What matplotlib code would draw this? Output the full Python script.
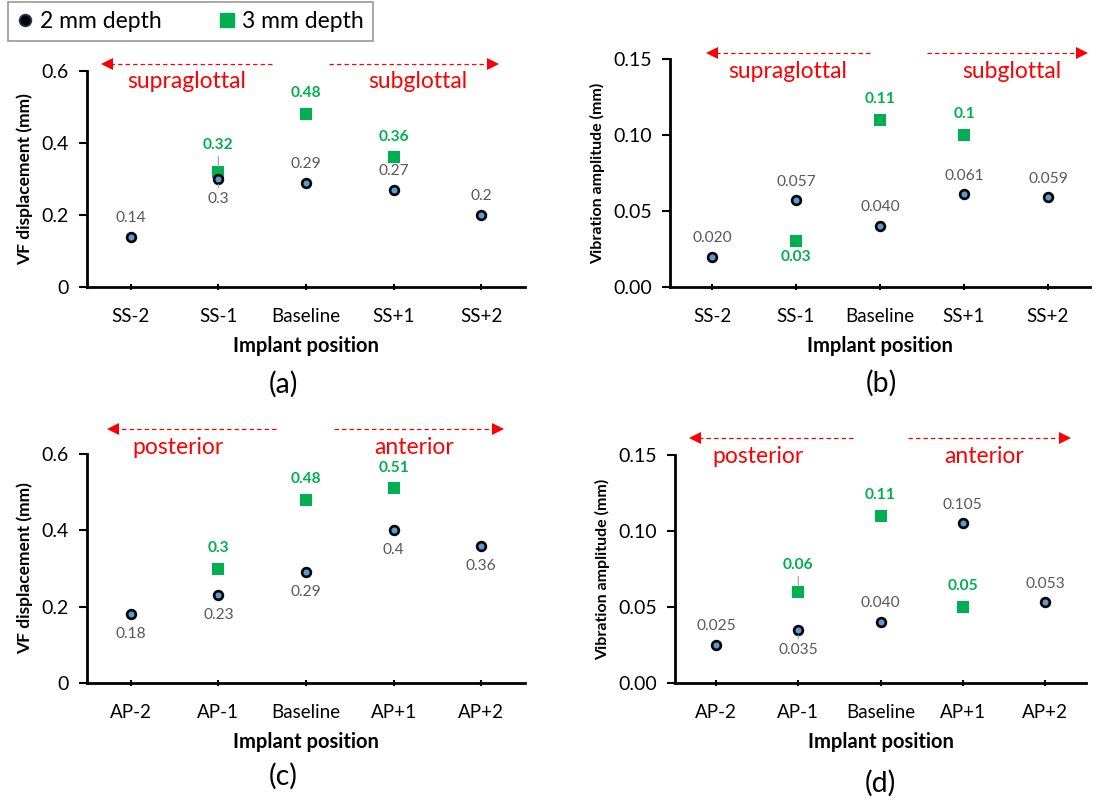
import numpy as np
import matplotlib
matplotlib.use("Agg")
import matplotlib.pyplot as plt
from matplotlib.lines import Line2D

plt.rcParams["font.family"] = ["Lato", "DejaVu Sans"]

W, H = 1107, 805

# ---- data -------------------------------------------------------------
ss_positions = ["SS-2", "SS-1", "Baseline", "SS+1", "SS+2"]
ap_positions = ["AP-2", "AP-1", "Baseline", "AP+1", "AP+2"]

ss_disp_2mm = [0.14, 0.30, 0.29, 0.27, 0.20]
ss_disp_3mm = [np.nan, 0.32, 0.48, 0.36, np.nan]

ss_amp_2mm = [0.020, 0.057, 0.040, 0.061, 0.059]
ss_amp_3mm = [np.nan, 0.03, 0.11, 0.10, np.nan]

ap_disp_2mm = [0.18, 0.23, 0.29, 0.40, 0.36]
ap_disp_3mm = [np.nan, 0.30, 0.48, 0.51, np.nan]

ap_amp_2mm = [0.025, 0.035, 0.040, 0.105, 0.053]
ap_amp_3mm = [np.nan, 0.06, 0.11, 0.05, np.nan]

# ---- styling ----------------------------------------------------------
DOT_FACE = "#5B9BD5"
GREEN = "#00B050"
LABEL_GRAY = "#595959"
RED = "#FF0000"


def fig_frac(x, y):
    """Convert top-left pixel position to figure fraction."""
    return x / W, 1 - y / H


def make_axes(left, top, right, bottom):
    l, t = fig_frac(left, top)
    r, b = fig_frac(right, bottom)
    return fig.add_axes([l, b, r - l, t - b])


def fmt_general(v):
    return f"{v:g}"


def fmt_three(v):
    return f"{v:.3f}"


def draw_panel(ax, cats, y2, y3, ymax, yticks, ytickfmt, ylabel, ylabel_size,
               pos2, pos3, fmt2, fmt3, leader2=(), leader3=()):
    x = np.arange(len(cats))
    ax.plot(x, y2, ls="none", marker="o", ms=6.3, mfc=DOT_FACE, mec="black",
            mew=1.9, zorder=4)
    ax.plot(x, y3, ls="none", marker="s", ms=8.0, mfc=GREEN, mec=GREEN,
            mew=0, zorder=3)

    for i, v in enumerate(y2):
        off = 13.5 if pos2[i] == "above" else -14.5
        kw = {}
        if i in leader2:
            kw["arrowprops"] = dict(arrowstyle="-", color="#A6A6A6", lw=0.9,
                                    shrinkA=1, shrinkB=4)
        ax.annotate(fmt2(v), xy=(i, v), xytext=(0, off),
                    textcoords="offset points", ha="center", va="center",
                    fontsize=11.2, color=LABEL_GRAY, zorder=5, **kw)
    for i, v in enumerate(y3):
        if np.isnan(v):
            continue
        p = pos3[i]
        off = 15 if p == "above" else -11.5
        kw = {}
        if i in leader3:
            off = 19 if p == "above" else -19
            kw["arrowprops"] = dict(arrowstyle="-", color="#A6A6A6", lw=0.9,
                                    shrinkA=1, shrinkB=4)
        ax.annotate(fmt3(v), xy=(i, v), xytext=(0, off),
                    textcoords="offset points", ha="center", va="center",
                    fontsize=11.2, fontweight="bold", color=GREEN, zorder=5,
                    **kw)

    ax.set_xlim(-0.5, len(cats) - 0.5)
    ax.set_ylim(0, ymax)
    ax.set_xticks(x)
    ax.set_xticklabels(cats)
    ax.set_yticks(yticks)
    ax.set_yticklabels([ytickfmt(t) for t in yticks])
    ax.tick_params(axis="x", direction="inout", length=5, width=1.5,
                   pad=12.5, labelsize=13.5, color="black")
    ax.tick_params(axis="y", direction="out", length=6, width=1.5,
                   pad=7, labelsize=14, color="black")
    for s in ("top", "right"):
        ax.spines[s].set_visible(False)
    for s in ("left", "bottom"):
        ax.spines[s].set_linewidth(2.0)
        ax.spines[s].set_color("black")
    ax.set_xlabel("Implant position", fontsize=14.5, fontweight="bold",
                  labelpad=8)
    ax.set_ylabel(ylabel, fontsize=ylabel_size, fontweight="bold", labelpad=6)
    ax.patch.set_alpha(0)


def direction_arrows(left_tail, left_head, right_tail, right_head, y,
                     left_text, right_text, ty, left_tx, right_tx):
    for tail, head in ((left_tail, left_head), (right_tail, right_head)):
        (tx, tyf), (hx, hy) = fig_frac(tail, y), fig_frac(head, y)
        fig.add_artist(Line2D([tx, hx], [tyf, hy], transform=fig.transFigure,
                              color=RED, lw=0.9, ls=(0, (3.5, 2.5))))
        fig.add_artist(Line2D([hx], [hy], transform=fig.transFigure,
                              marker="<" if head < tail else ">",
                              ms=8.5, color=RED, mew=0, ls="none"))
    for tx, txt in ((left_tx, left_text), (right_tx, right_text)):
        fx, fy = fig_frac(tx, ty)
        fig.text(fx, fy, txt, ha="center", va="center", color=RED,
                 fontsize=16.5)


fig = plt.figure(figsize=(W / 100, H / 100), dpi=100)
fig.patch.set_facecolor("white")

ax_a = make_axes(87, 71, 525, 287)
ax_b = make_axes(670, 59, 1090, 287)
ax_c = make_axes(87, 454, 525, 683)
ax_d = make_axes(675, 455, 1086, 683)

disp_ticks = [0, 0.2, 0.4, 0.6]
amp_ticks = [0, 0.05, 0.10, 0.15]

draw_panel(ax_a, ss_positions, ss_disp_2mm, ss_disp_3mm, 0.6, disp_ticks,
           fmt_general, "VF displacement (mm)", 12.5,
           ["above", "below", "above", "above", "above"],
           [None, "above", "above", "above", None],
           fmt_general, fmt_general, leader2=(1,), leader3=(1,))
draw_panel(ax_b, ss_positions, ss_amp_2mm, ss_amp_3mm, 0.15, amp_ticks,
           lambda t: f"{t:.2f}", "Vibration amplitude (mm)", 11.5,
           ["above"] * 5,
           [None, "below", "above", "above", None],
           fmt_three, fmt_general)
draw_panel(ax_c, ap_positions, ap_disp_2mm, ap_disp_3mm, 0.6, disp_ticks,
           fmt_general, "VF displacement (mm)", 12.5,
           ["below"] * 5,
           [None, "above", "above", "above", None],
           fmt_general, fmt_general)
draw_panel(ax_d, ap_positions, ap_amp_2mm, ap_amp_3mm, 0.15, amp_ticks,
           lambda t: f"{t:.2f}", "Vibration amplitude (mm)", 11.5,
           ["above", "below", "above", "above", "above"],
           [None, "above", "above", "above", None],
           fmt_three, fmt_general, leader2=(1,), leader3=(1,))

# direction indicators above each panel
direction_arrows(272, 107, 329, 493, 64, "supraglottal", "subglottal",
                 82, 187, 418)
direction_arrows(870, 712, 927, 1082, 53, "supraglottal", "subglottal",
                 71, 788, 1012)
direction_arrows(276, 113, 334, 498, 429, "posterior", "anterior",
                 447, 178, 414)
direction_arrows(853, 695, 908, 1065, 438, "posterior", "anterior",
                 456, 758, 984)

# panel letters
for txt, (px, py) in (("(a)", (283, 384)), ("(b)", (881, 383)),
                      ("(c)", (283, 776)), ("(d)", (880, 783))):
    fx, fy = fig_frac(px, py)
    fig.text(fx, fy, txt, ha="center", va="center", fontsize=20.5)

# shared legend
handles = [
    Line2D([], [], ls="none", marker="o", ms=8.5, mfc="black", mec="#1F3864",
           mew=1.2, label="2 mm depth"),
    Line2D([], [], ls="none", marker="s", ms=10.5, mfc=GREEN, mec=GREEN,
           label="3 mm depth"),
]
lx, ly = fig_frac(8, 2)
leg = fig.legend(handles=handles, loc="upper left", bbox_to_anchor=(lx, ly),
                 ncol=2, frameon=True, fancybox=False, fontsize=16.5,
                 handlelength=0.7, handletextpad=0.3, columnspacing=2.5,
                 borderpad=0.4, borderaxespad=0)
leg.get_frame().set_edgecolor("#7F7F7F")
leg.get_frame().set_linewidth(1.2)

fig.savefig("out.png", dpi=100, facecolor="white")
